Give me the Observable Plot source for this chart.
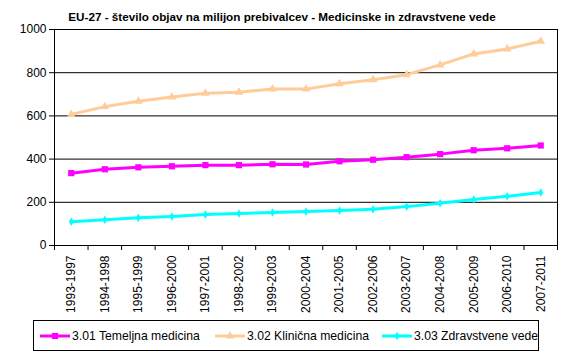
<!DOCTYPE html>
<html><head><meta charset="utf-8">
<script src="https://cdn.jsdelivr.net/npm/d3@7"></script>
<script src="https://cdn.jsdelivr.net/npm/@observablehq/plot@0.6"></script>
<style>
body{margin:0;background:#fff;font-family:"Liberation Sans",Arial,sans-serif;color:#000;}
#wrap{position:relative;width:564px;height:359px;overflow:hidden;}
#chart{position:absolute;left:0;top:0;}
#title{position:absolute;top:10px;left:0;width:564px;text-align:center;font-weight:bold;font-size:11.7px;line-height:14px;}
#legend{position:absolute;left:33px;top:320px;width:506px;height:31px;border:1px solid #000;box-sizing:border-box;font-size:12.2px;}
.item{position:absolute;top:0;height:29px;display:flex;align-items:center;white-space:nowrap;}
.item svg{display:block;margin-right:2px;}
</style></head>
<body>
<div id="wrap">
<div id="chart"></div>
<div id="title">EU-27 - število objav na milijon prebivalcev - Medicinske in zdravstvene vede</div>
<div id="legend"></div>
</div>
<script>
const periods = ["1993-1997","1994-1998","1995-1999","1996-2000","1997-2001","1998-2002","1999-2003","2000-2004","2001-2005","2002-2006","2003-2007","2004-2008","2005-2009","2006-2010","2007-2011"];
const temeljna = [335,353,362,367,372,372,376,375,390,397,409,423,441,450,463];
const klinicna = [607,643,668,687,705,710,724,724,749,767,791,836,887,910,946];
const zdravstvene = [110,119,128,134,143,148,153,157,162,168,180,196,213,228,245];
const seriesNames = ["3.01 Temeljna medicina","3.02 Klinična medicina","3.03 Zdravstvene vede"];
const yTicks = [0,200,400,600,800,1000];

const colors = ["#FF00FF","#FFCC99","#00FFFF"];
const symbols = ["square","triangle","diamond"];
const radii = [3.5,3.2,2.6];
const values = [temeljna, klinicna, zdravstvene];

const rows = values.map((vals, s) => vals.map((v, i) => ({i, period: periods[i], value: v, series: seriesNames[s]})));

const marks = [
  Plot.gridY([200,400,600,800], {stroke:"#000", strokeOpacity:1}),
  Plot.frame({stroke:"#000"})
];
rows.forEach((r, s) => {
  marks.push(Plot.line(r, {x:"i", y:"value", stroke: colors[s], strokeWidth: 3}));
});
rows.forEach((r, s) => {
  marks.push(Plot.dot(r, {x:"i", y:"value", symbol: symbols[s], fill: colors[s], stroke: "none", r: radii[s]}));
});
marks.push(
  Plot.axisY({ticks: yTicks, tickSize: 5, tickPadding: 3, tickFormat: d => String(d), fontSize: 12, label: null}),
  Plot.axisX({ticks: d3.range(-0.5, 15, 1), tickSize: 5, tickFormat: () => "", label: null}),
  Plot.axisX({ticks: d3.range(0, 15), tickSize: 0, tickPadding: 10, tickRotate: -90, tickFormat: i => periods[i], fontSize: 12, label: null})
);

const chart = Plot.plot({
  width: 564,
  height: 318,
  marginTop: 29,
  marginBottom: 73,
  marginLeft: 54,
  marginRight: 7,
  style: {fontFamily: '"Liberation Sans", Arial, sans-serif', fontSize: "12px", color: "#000", background: "transparent"},
  x: {type: "linear", domain: [-0.5, 14.5], label: null},
  y: {domain: [0, 1000], label: null},
  marks
});
document.getElementById("chart").appendChild(chart);

// legend
const legend = document.getElementById("legend");
const lefts = [6, 181, 348];
seriesNames.forEach((name, s) => {
  const item = document.createElement("div");
  item.className = "item";
  item.style.left = lefts[s] + "px";
  const sw = d3.create("svg").attr("width", 30).attr("height", 12);
  sw.append("line").attr("x1", 0).attr("x2", 30).attr("y1", 6).attr("y2", 6).attr("stroke", colors[s]).attr("stroke-width", 3);
  const sym = {square: d3.symbolSquare, triangle: d3.symbolTriangle, diamond: d3.symbolDiamond}[symbols[s]];
  sw.append("path").attr("transform", "translate(15,6)").attr("d", d3.symbol(sym, Math.PI * radii[s] * radii[s])()).attr("fill", colors[s]);
  item.appendChild(sw.node());
  const t = document.createElement("span");
  t.textContent = name;
  item.appendChild(t);
  legend.appendChild(item);
});
</script>
</body></html>
